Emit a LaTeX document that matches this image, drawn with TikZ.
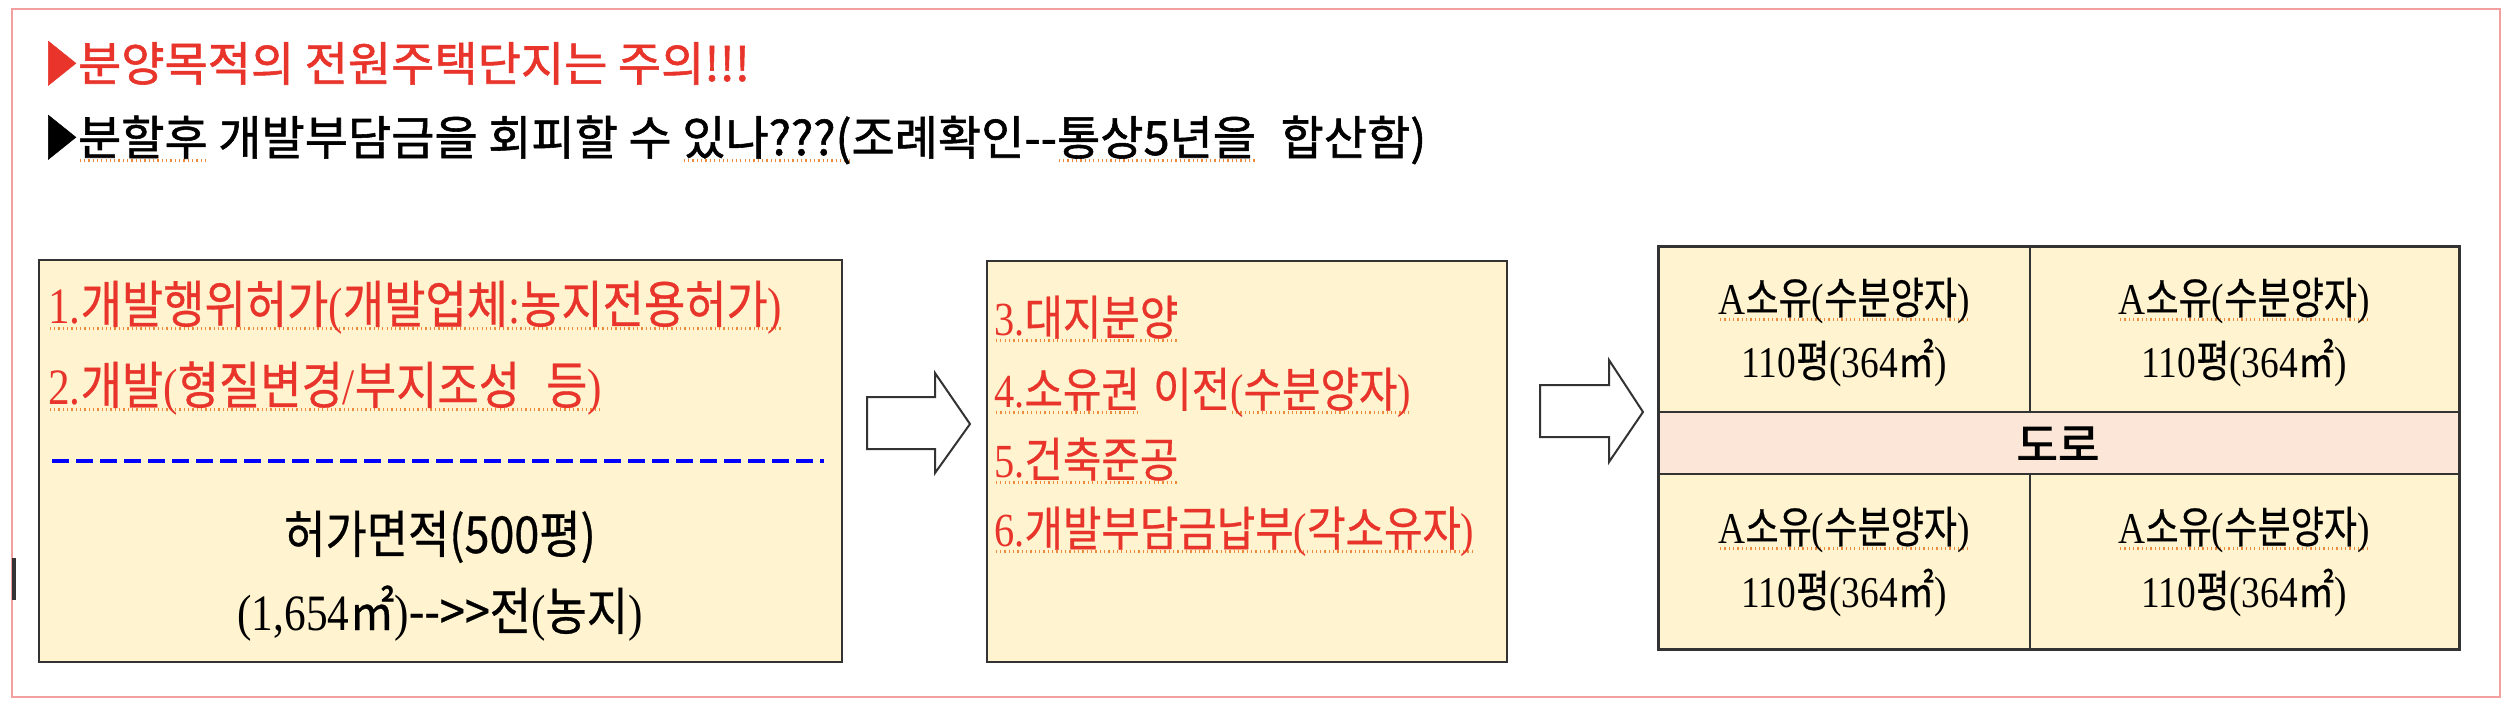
\documentclass[tikz,border=0pt]{standalone}
\usepackage{graphicx}
\usepackage{fontspec}
\setmainfont{Noto Sans CJK KR}
\newfontfamily\krt[FakeBold=1.2]{Noto Sans CJK KR}
\newfontfamily\krc[FakeStretch=0.88,FakeBold=0.6]{Noto Sans CJK KR}
\newfontfamily\krg[FakeStretch=0.82,FakeBold=0.5]{Noto Sans CJK KR}
\newfontfamily\krbold[FakeBold=2]{Noto Sans CJK KR}
\newfontfamily\lat[FakeStretch=0.85]{Liberation Serif}
\definecolor{cream}{HTML}{FFF4CF}
\definecolor{roadc}{HTML}{FBE6D8}
\definecolor{redt}{HTML}{E8342A}
\definecolor{pinkb}{HTML}{F2A0A0}
\definecolor{sqcol}{HTML}{EE8A3C}
\definecolor{edge}{HTML}{333333}
\newsavebox\sqb
\newcommand\squ[1]{\sbox\sqb{#1}\rlap{\raisebox{-6.5pt}{\color{sqcol}\hbox to \wd\sqb{\xleaders\hbox to 4.3pt{\hss\rule{1.3pt}{2.6pt}\hss}\hfil}}}\usebox\sqb}
\newcommand\latx[1]{{\lat #1}}
\newcommand\tri{\scalebox{0.72}[1]{▶}}
\tikzset{
  boxst/.style={draw=edge, line width=2.5pt, fill=cream, inner sep=0pt},
  cellst/.style={draw=edge, line width=2pt, fill=cream, inner sep=0pt},
  roadst/.style={draw=edge, line width=2.5pt, fill=roadc, inner sep=0pt},
  titlest/.style={anchor=base west, inner sep=0pt, font=\krt\fontsize{47}{52}\selectfont},
  redline/.style={anchor=base west, inner sep=0pt, text=redt, font=\krc\fontsize{51}{56}\selectfont},
  redlinetwo/.style={anchor=base west, inner sep=0pt, text=redt, font=\krc\fontsize{47.5}{54}\selectfont},
  blkline/.style={anchor=base, inner sep=0pt, text=black, font=\krc\fontsize{51}{56}\selectfont},
  gridtxt/.style={anchor=base, inner sep=0pt, text=black, font=\krg\fontsize{44}{50}\selectfont},
  blockarrow/.style={draw=edge, line width=2pt, fill=white, line join=miter},
  sepline/.style={draw=blue, line width=3.5pt, dash pattern=on 17pt off 7pt}
}
\begin{document}
\begin{tikzpicture}[x=1pt,y=-1pt]
\useasboundingbox (0,0) rectangle (2504,710);
\fill[white] (0,0) rectangle (2504,710);
\draw[pinkb, line width=2pt] (12,9) rectangle (2500,697);
\fill[edge] (12,558) rectangle (16,600);

% titles
\node[titlest, text=redt] (title1) at (44,81) {\tri 분양목적의 전원주택단지는 주의!!!};
\node[titlest, text=black] (title2) at (44,155) {\tri\squ{분할후} 개발부담금을 회피할 수 \squ{있나???(}조례확인-{}-\squ{통상5년을}\hspace{14pt} 합산함)};

% box 1
\node[boxst, minimum width=803pt, minimum height=402pt] (box1) at (440.5,461) {};
\node[redline] (l1) at (48,323) {\squ{\latx{1.}개발행위허가\latx{(}개발업체\latx{:}농지전용허가\latx{)}}};
\node[redline] (l2) at (48,404) {\squ{\latx{2.}개발\latx{(}형질변경\latx{/}부지조성\hspace{26pt}등\latx{)}}};
\coordinate (d1) at (52,461);
\coordinate (d2) at (824,461);
\draw[sepline] (d1) -- (d2);
\node[blkline] (area1) at (440,553) {허가면적(500평)};
\node[blkline] (area2) at (440,630) {\latx{(1,654}㎡\latx{)}-{}->>전\latx{(}농지\latx{)}};

% arrow 1
\draw[blockarrow] (867,397) -- (935,397) -- (935,373) -- (970,424) -- (935,473) -- (935,449) -- (867,449) -- cycle;

% box 2
\node[boxst, minimum width=520pt, minimum height=401pt] (box2) at (1247,461.5) {};
\node[redlinetwo] (l3) at (994,335) {\squ{\latx{3.}대지분양}};
\node[redlinetwo] (l4) at (994,407) {\squ{\latx{4.}소유권}\hspace{4pt} 이전\squ{\latx{(}수분양자\latx{)}}};
\node[redlinetwo] (l5) at (994,477) {\squ{\latx{5.}건축준공}};
\node[redlinetwo] (l6) at (994,546) {\squ{\latx{6.}개발부담금납부\latx{(}각소유자\latx{)}}};

% arrow 2
\draw[blockarrow] (1540,385) -- (1609,385) -- (1609,360) -- (1643,412) -- (1609,462) -- (1609,437) -- (1540,437) -- cycle;

% grid
\node[cellst, minimum width=372pt, minimum height=166pt] (c11) at (1844,329) {};
\node[cellst, minimum width=429pt, minimum height=166pt] (c12) at (2244.5,329) {};
\node[cellst, minimum width=372pt, minimum height=175pt] (c21) at (1844,561.5) {};
\node[cellst, minimum width=429pt, minimum height=175pt] (c22) at (2244.5,561.5) {};
\node[roadst, minimum width=801pt, minimum height=62pt] (road) at (2058.5,443) {};
\draw[edge, line width=3pt] (1658,246) rectangle (2459,649);

\node[anchor=base, inner sep=0pt, font=\krbold\fontsize{45}{50}\selectfont] (roadtxt) at (2058,461) {도로};

\node[gridtxt] (o11) at (1844,314) {\squ{\latx{A}소유\latx{(}수분양자\latx{)}}};
\node[gridtxt] (a11) at (1844,377) {\latx{110}평\latx{(364}㎡\latx{)}};
\node[gridtxt] (o12) at (2244,314) {\squ{\latx{A}소유\latx{(}수분양자\latx{)}}};
\node[gridtxt] (a12) at (2244,377) {\latx{110}평\latx{(364}㎡\latx{)}};
\node[gridtxt] (o21) at (1844,543) {\squ{\latx{A}소유\latx{(}수분양자\latx{)}}};
\node[gridtxt] (a21) at (1844,607) {\latx{110}평\latx{(364}㎡\latx{)}};
\node[gridtxt] (o22) at (2244,543) {\squ{\latx{A}소유\latx{(}수분양자\latx{)}}};
\node[gridtxt] (a22) at (2244,607) {\latx{110}평\latx{(364}㎡\latx{)}};
\end{tikzpicture}
\end{document}
